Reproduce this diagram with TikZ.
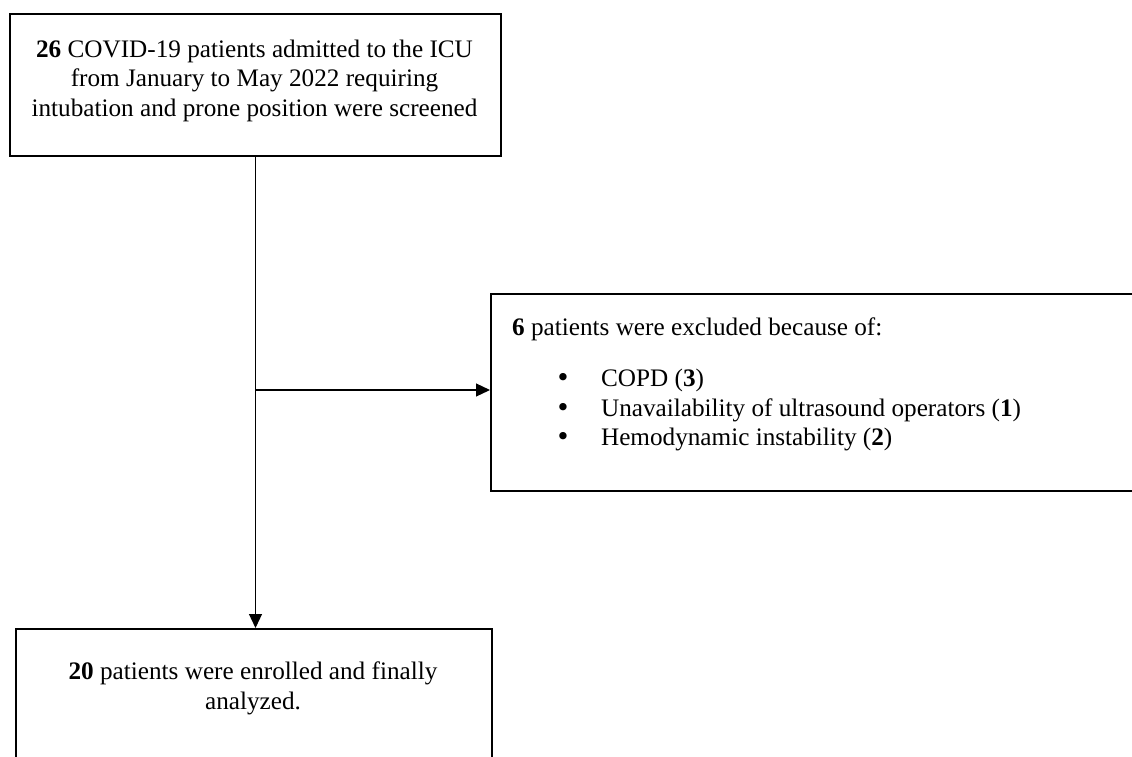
\documentclass[tikz,border=0pt]{standalone}
\usepackage{fontspec}
\setmainfont{Liberation Serif}
\newfontfamily\bulletfont{DejaVu Sans}
\usetikzlibrary{arrows.meta}

\newcommand{\flowbullet}{\makebox[44.4pt][l]{\bulletfont\hspace{-1pt}\textbullet}}

\begin{document}
\begin{tikzpicture}[x=1pt,y=-1pt,
  flowbox/.style={rectangle,draw=black,line width=2pt,anchor=north west,inner sep=0pt},
  flowtext/.style={inner sep=0pt,font=\fontsize{25.2}{29.6}\selectfont},
  flowarrow/.style={line width=1.2pt,-{Triangle[length=14pt,width=13pt]}}]
  \useasboundingbox (0,0) rectangle (1132,757);
  \clip (0,0) rectangle (1132,757);
  % boxes
  \node[flowbox,minimum width=491pt,minimum height=142pt] (screened) at (9,13) {};
  \node[flowbox,minimum width=700pt,minimum height=197pt] (excluded) at (490,293) {};
  \node[flowbox,minimum width=476pt,minimum height=200pt] (enrolled) at (15,628) {};
  % texts
  \node[flowtext,anchor=north,align=center] (screenedtxt) at (254.5,39.5)
    {\textbf{26} COVID-19 patients admitted to the ICU\\
     from January to May 2022 requiring\\
     intubation and prone position were screened};
  \node[flowtext,anchor=north west] (excludedtxt) at (512,317.8)
    {\textbf{6} patients were excluded because of:};
  \node[flowtext,anchor=north west,align=left] (reasons) at (556.5,369)
    {\flowbullet COPD (\textbf{3})\\
     \flowbullet Unavailability of ultrasound operators (\textbf{1})\\
     \flowbullet Hemodynamic instability (\textbf{2})};
  \node[flowtext,anchor=north,align=center] (enrolledtxt) at (253,661.8)
    {\textbf{20} patients were enrolled and finally\\
     analyzed.};
  % connectors
  \draw[flowarrow] (screened.south) -- (screened.south |- enrolled.north);
  \coordinate (split) at (screened.south |- 0,390);
  \draw[flowarrow] (split) -- (split -| excluded.west);
\end{tikzpicture}
\end{document}
